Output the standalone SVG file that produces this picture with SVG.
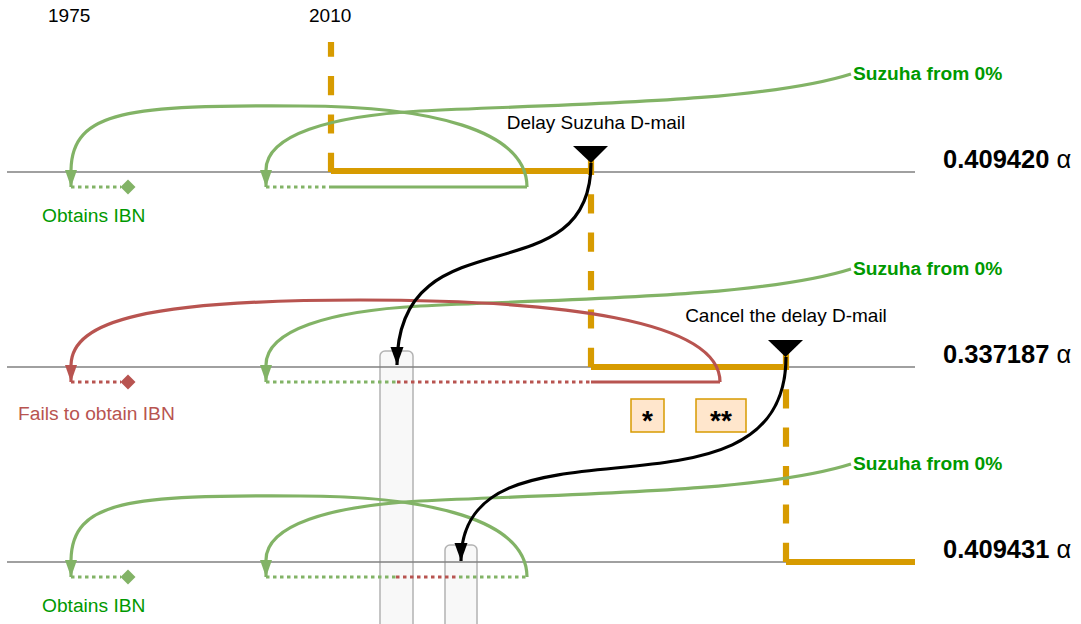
<svg xmlns="http://www.w3.org/2000/svg" width="1081" height="624" viewBox="0 0 1081 624">
<style>
text{font-family:"Liberation Sans",Arial,sans-serif}
.lbl{font-size:19px;fill:#000}
.num{font-size:25.5px;font-weight:bold;fill:#000}
.gtxt{font-size:19.2px;fill:#009900}
.gbold{font-size:19.2px;font-weight:bold;fill:#009900}
.rtxt{font-size:19.2px;fill:#b85450}
.tl{stroke:#808080;stroke-width:1.6;fill:none}
.g{stroke:#82b366;stroke-width:3.2;fill:none}
.r{stroke:#b85450;stroke-width:3.2;fill:none}
.gd{stroke:#82b366;stroke-width:3.2;fill:none;stroke-dasharray:3.5 3.5}
.rd{stroke:#b85450;stroke-width:3.2;fill:none;stroke-dasharray:3.5 3.5}
.o{stroke:#d79b00;stroke-width:6.2;fill:none}
.od{stroke:#d79b00;stroke-width:6.2;fill:none;stroke-dasharray:19.2 19.2}
.bk{stroke:#000;stroke-width:3.2;fill:none}
.box{fill:#f8f8f8;stroke:#b3b3b3;stroke-width:1.5}
.note{fill:#ffe6cc;stroke:#d79b00;stroke-width:1.5}
.star{font-size:28px;font-weight:bold;fill:#000}
</style>
<defs>
<marker id="ag" markerUnits="userSpaceOnUse" viewBox="0 0 18 14" markerWidth="18" markerHeight="14" refX="17" refY="7" orient="auto"><path d="M0,1 L17,7 L0,13 z" fill="#82b366"/></marker>
<marker id="ar" markerUnits="userSpaceOnUse" viewBox="0 0 18 14" markerWidth="18" markerHeight="14" refX="17" refY="7" orient="auto"><path d="M0,1 L17,7 L0,13 z" fill="#b85450"/></marker>
<marker id="ab" markerUnits="userSpaceOnUse" viewBox="0 0 19 15" markerWidth="19" markerHeight="15" refX="18" refY="7.5" orient="auto"><path d="M0,1 L18,7.5 L0,14 z" fill="#000"/></marker>
</defs>

<g id="years">
<text class="lbl" x="48" y="22">1975</text>
<text class="lbl" x="309" y="22">2010</text>
</g>

<g id="markers-boxes">
<rect id="box1" class="box" x="380" y="351" width="33" height="290" rx="5"/>
<rect id="box2" class="box" x="445" y="545" width="32" height="100" rx="5"/>
</g>

<g id="timelines">
<line class="tl" x1="7" y1="172" x2="915" y2="172"/>
<line class="tl" x1="7" y1="367" x2="915" y2="367"/>
<line class="tl" x1="7" y1="562" x2="786" y2="562"/>
</g>

<g id="connectors">
<!-- orange worldline -->
<path class="od" d="M331,172 L331,42"/>
<path class="o" d="M331,171 L591,171"/>
<path class="od" d="M591,367 L591,158"/>
<path class="o" d="M591,367 L786,367"/>
<path class="od" d="M786,562 L786,352"/>
<path class="o" d="M786,562 L915,562"/>

<!-- timeline 1 -->
<path class="g" d="M851,74 C760,103 560,104 420,111 C330,116 266,135 266,170 L266,187" marker-end="url(#ag)"/>
<path class="g" d="M527,187 C527,130 430,106 300,106 C130,105 72,110 71,170 L71,187" marker-end="url(#ag)"/>
<path class="gd" d="M71,187 L121,187"/>
<path class="gd" d="M266,187 L331,187"/>
<path class="g" d="M331,187 L527,187"/>

<!-- timeline 2 -->
<path class="g" d="M851,269 C760,298 560,299 420,306 C330,311 266,330 266,365 L266,382" marker-end="url(#ag)"/>
<path class="r" d="M720,382 C720,320 560,300 360,300 C150,300 72,320 71,365 L71,382" marker-end="url(#ar)"/>
<path class="rd" d="M71,382 L121,382"/>
<path class="gd" d="M266,382 L397,382"/>
<path class="rd" d="M397,382 L591,382"/>
<path class="r" d="M591,382 L720,382"/>

<!-- timeline 3 -->
<path class="g" d="M851,464 C760,493 560,494 420,501 C330,506 266,525 266,560 L266,577" marker-end="url(#ag)"/>
<path class="g" d="M527,577 C527,520 430,496 300,496 C130,495 72,500 71,560 L71,577" marker-end="url(#ag)"/>
<path class="gd" d="M71,577 L121,577"/>
<path class="gd" d="M266,577 L396,577"/>
<path class="rd" d="M396,577 L459,577"/>
<path class="gd" d="M459,577 L527,577"/>

<!-- D-mail jumps -->
<path class="bk" d="M591,163 C591,300 397,210 397,365" marker-end="url(#ab)"/>
<path class="bk" d="M786,357 C786,540 461,400 461,561" marker-end="url(#ab)"/>
</g>

<g id="ibn-diamonds">
<path d="M128,179.5 L135.5,187 L128,194.5 L120.5,187 z" fill="#82b366"/>
<path d="M128,374.5 L135.5,382 L128,389.5 L120.5,382 z" fill="#b85450"/>
<path d="M128,569.5 L135.5,577 L128,584.5 L120.5,577 z" fill="#82b366"/>
</g>

<g id="dmail1">
<path d="M573,146 L608,146 L591,163 z" fill="#000"/>
<text class="lbl" x="596" y="129" text-anchor="middle">Delay Suzuha D-mail</text>
</g>
<g id="dmail2">
<path d="M768,340 L803,340 L785.5,357 z" fill="#000"/>
<text class="lbl" x="786" y="322" text-anchor="middle">Cancel the delay D-mail</text>
</g>

<g id="note1">
<rect class="note" x="631" y="399" width="33" height="33"/>
<text class="star" x="647.5" y="430" text-anchor="middle">*</text>
</g>
<g id="note2">
<rect class="note" x="696" y="399" width="50" height="33"/>
<text class="star" x="721" y="430" text-anchor="middle">**</text>
</g>

<g id="labels">
<text class="gbold" x="853" y="80">Suzuha from 0%</text>
<text class="gbold" x="853" y="275">Suzuha from 0%</text>
<text class="gbold" x="853" y="470">Suzuha from 0%</text>
<text class="gtxt" x="42" y="222">Obtains IBN</text>
<text class="rtxt" x="18" y="420">Fails to obtain IBN</text>
<text class="gtxt" x="42" y="612">Obtains IBN</text>
<text class="num" x="943" y="168">0.409420 <tspan font-weight="normal">α</tspan></text>
<text class="num" x="943" y="363">0.337187 <tspan font-weight="normal">α</tspan></text>
<text class="num" x="943" y="558">0.409431 <tspan font-weight="normal">α</tspan></text>
</g>
</svg>
